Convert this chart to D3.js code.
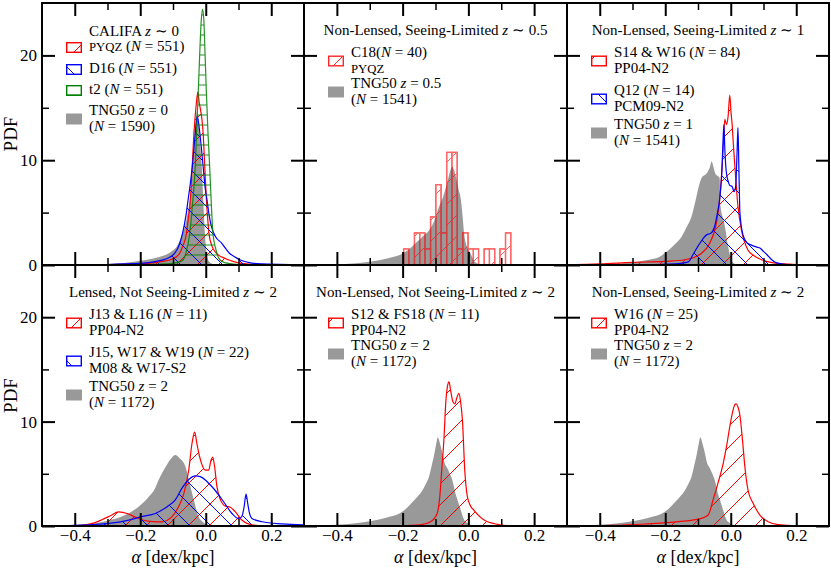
<!DOCTYPE html>
<html><head><meta charset="utf-8">
<script src="https://cdn.jsdelivr.net/npm/d3@7"></script>
<style>
body{margin:0;background:#fff}
svg{display:block}
text{font-family:"Liberation Serif","Times New Roman",serif;fill:#000;white-space:pre}
</style>
</head><body>
<svg id="chart" width="831" height="569"></svg>
<script>
// ---------------- DATA ----------------
const xTickValues = [-0.4, -0.2, 0.0, 0.2];
const xTickLabels = ["\u22120.4", "\u22120.2", "0.0", "0.2"];
const xMinorTicks = [-0.3, -0.1, 0.1];
const yTickValues = [0, 10, 20];
const yTickLabels = ["0", "10", "20"];
const yMinorTicks = [5, 15];

// Panel 1: CALIFA z~0  [alpha, PDF]
const tng50z0 = [[-0.5,0],[-0.4,0.02],[-0.3,0.1],[-0.25,0.2],[-0.2,0.4],[-0.15,0.7],[-0.12,1.0],[-0.1,1.4],[-0.09,1.7],[-0.08,2.3],[-0.07,3.2],[-0.064,3.6],[-0.055,5.0],[-0.049,6.2],[-0.04,9.0],[-0.035,11.5],[-0.03,13.8],[-0.027,14.6],[-0.022,13.5],[-0.017,11.5],[-0.012,9.3],[-0.008,6.5],[-0.003,3.2],[0.002,1.3],[0.007,0.5],[0.015,0.2],[0.03,0.05],[0.3,0]];
const califaPyqz = [[-0.5,0],[-0.3,0.03],[-0.2,0.1],[-0.14,0.3],[-0.1,0.6],[-0.08,1.1],[-0.07,1.8],[-0.059,3.0],[-0.053,4.5],[-0.047,6.2],[-0.042,9.0],[-0.036,12.6],[-0.03,15.0],[-0.024,16.5],[-0.02,15.5],[-0.017,15.0],[-0.012,14.0],[-0.008,12.6],[-0.003,9.4],[0.002,6.2],[0.006,4.4],[0.01,3.0],[0.018,1.9],[0.033,1.1],[0.05,0.75],[0.073,0.45],[0.1,0.2],[0.15,0.05],[0.3,0]];
const califaD16 = [[-0.5,0],[-0.3,0.05],[-0.2,0.15],[-0.15,0.35],[-0.12,0.6],[-0.095,1.1],[-0.08,2.0],[-0.071,3.0],[-0.06,4.8],[-0.054,6.2],[-0.047,7.8],[-0.041,9.4],[-0.035,11.5],[-0.03,13.3],[-0.026,14.2],[-0.022,13.6],[-0.016,12.0],[-0.008,9.4],[-0.002,7.4],[0.004,6.2],[0.01,4.8],[0.017,3.7],[0.03,2.7],[0.048,2.1],[0.06,1.6],[0.073,1.1],[0.09,0.75],[0.104,0.5],[0.13,0.25],[0.17,0.1],[0.3,0]];
const califaT2 = [[-0.5,0],[-0.2,0.02],[-0.12,0.1],[-0.08,0.3],[-0.069,0.5],[-0.06,1.2],[-0.049,3.0],[-0.04,6.0],[-0.032,9.4],[-0.027,13.5],[-0.023,16.4],[-0.018,20.5],[-0.014,23.2],[-0.01,24.4],[-0.006,23.5],[-0.002,20.0],[0.002,16.4],[0.007,12.5],[0.012,9.4],[0.017,5.8],[0.022,3.0],[0.03,1.6],[0.043,0.5],[0.06,0.2],[0.1,0.05],[0.3,0]];

// Panel 2: z~0.5
const tng50z05 = [[-0.5,0],[-0.4,0.05],[-0.3,0.3],[-0.25,0.6],[-0.2,1.1],[-0.18,1.5],[-0.16,2.1],[-0.14,2.7],[-0.12,3.3],[-0.1,4.5],[-0.09,5.5],[-0.077,6.5],[-0.065,7.8],[-0.055,9.0],[-0.049,9.4],[-0.043,9.0],[-0.035,8.0],[-0.028,7.0],[-0.024,6.5],[-0.018,4.8],[-0.014,3.3],[-0.005,1.8],[0.007,1.1],[0.015,0.5],[0.027,0.15],[0.05,0.03],[0.3,0]];
const c18BinEdges = [-0.197,-0.181,-0.164,-0.148,-0.132,-0.115,-0.099,-0.083,-0.066,-0.050,-0.034,-0.017,-0.001,0.015,0.031,0.048,0.064,0.080,0.096,0.113,0.129];
const c18Pdf = [1.53,0,3.07,3.07,1.53,4.60,7.67,3.07,10.74,10.74,1.53,3.07,1.53,1.53,0,1.53,1.53,0,1.53,3.07];

// Panel 3: z~1
const tng50z1 = [[-0.5,0],[-0.4,0.05],[-0.32,0.2],[-0.25,0.5],[-0.22,0.75],[-0.19,1.4],[-0.17,2.0],[-0.15,2.7],[-0.135,3.6],[-0.12,4.6],[-0.105,6.5],[-0.095,7.8],[-0.087,8.4],[-0.078,8.6],[-0.07,8.9],[-0.064,9.3],[-0.058,9.9],[-0.054,9.5],[-0.05,9.0],[-0.045,8.6],[-0.04,8.5],[-0.034,8.3],[-0.031,5.6],[-0.025,4.6],[-0.018,3.7],[-0.008,1.75],[0.002,0.5],[0.01,0.15],[0.03,0.03],[0.3,0]];
const s14w16 = [[-0.5,0.02],[-0.4,0.1],[-0.3,0.25],[-0.2,0.35],[-0.14,0.5],[-0.09,1.1],[-0.064,2.1],[-0.044,4.0],[-0.034,6.2],[-0.029,8.1],[-0.023,11.3],[-0.018,13.9],[-0.013,13.4],[-0.008,14.2],[-0.003,16.2],[0.001,14.5],[0.004,13.5],[0.008,11.5],[0.012,9.7],[0.022,5.6],[0.033,3.3],[0.053,1.4],[0.07,0.9],[0.094,0.5],[0.13,0.2],[0.2,0.05],[0.3,0]];
const q12 = [[-0.5,0],[-0.25,0.02],[-0.17,0.1],[-0.13,0.3],[-0.115,1.0],[-0.1,1.8],[-0.085,2.5],[-0.073,2.9],[-0.062,3.0],[-0.05,3.6],[-0.041,4.9],[-0.035,6.0],[-0.031,7.2],[-0.027,9.0],[-0.024,11.5],[-0.021,13.4],[-0.018,11.0],[-0.014,9.0],[-0.008,8.0],[-0.003,7.6],[0.004,7.5],[0.01,7.0],[0.015,7.5],[0.019,10.5],[0.022,13.1],[0.025,9.0],[0.028,5.0],[0.037,2.9],[0.05,2.1],[0.063,1.9],[0.08,1.7],[0.09,1.6],[0.1,1.3],[0.11,1.0],[0.125,0.5],[0.14,0.2],[0.17,0.05],[0.3,0]];

// Panel 4: lensed z~2
const tng50z2Smooth = [[-0.5,0.02],[-0.4,0.08],[-0.35,0.2],[-0.3,0.5],[-0.246,1.05],[-0.205,1.85],[-0.174,2.8],[-0.155,3.6],[-0.144,4.4],[-0.12,5.8],[-0.105,6.5],[-0.093,6.8],[-0.08,6.5],[-0.062,5.7],[-0.047,3.8],[-0.034,2.2],[-0.022,0.9],[-0.01,0.4],[0.0,0.2],[0.02,0.05],[0.3,0]];
const j13l16 = [[-0.5,0],[-0.4,0.02],[-0.368,0.1],[-0.34,0.3],[-0.317,0.6],[-0.29,1.0],[-0.266,1.35],[-0.24,1.2],[-0.215,0.85],[-0.195,0.6],[-0.17,0.45],[-0.134,0.4],[-0.103,0.9],[-0.083,1.85],[-0.067,3.1],[-0.052,5.35],[-0.042,7.9],[-0.034,9.0],[-0.027,7.9],[-0.02,6.8],[-0.013,6.0],[-0.001,5.35],[0.009,5.35],[0.016,6.3],[0.021,6.6],[0.027,5.7],[0.034,3.8],[0.045,2.5],[0.06,1.9],[0.075,1.8],[0.09,1.37],[0.11,0.57],[0.13,0.2],[0.16,0.05],[0.3,0]];
const j15w17w19 = [[-0.5,0],[-0.4,0.06],[-0.296,0.25],[-0.235,0.57],[-0.195,0.9],[-0.154,1.2],[-0.118,1.85],[-0.093,2.5],[-0.073,3.6],[-0.05,4.5],[-0.032,4.8],[-0.015,4.7],[-0.001,4.4],[0.015,3.9],[0.029,3.4],[0.055,2.3],[0.08,1.2],[0.1,0.73],[0.11,0.9],[0.117,1.8],[0.123,3.05],[0.128,2.2],[0.133,1.3],[0.141,0.73],[0.172,0.41],[0.233,0.2],[0.3,0.1]];

// Panels 5 & 6: z~2
const tng50z2 = [[-0.5,0.02],[-0.45,0.06],[-0.4,0.12],[-0.35,0.25],[-0.3,0.45],[-0.25,0.8],[-0.21,1.2],[-0.195,1.5],[-0.185,1.8],[-0.17,2.3],[-0.155,2.8],[-0.14,3.4],[-0.13,4.0],[-0.12,4.7],[-0.11,6.0],[-0.103,7.0],[-0.097,8.0],[-0.093,8.5],[-0.088,8.1],[-0.083,7.5],[-0.079,7.0],[-0.072,6.0],[-0.065,5.6],[-0.059,5.2],[-0.049,4.4],[-0.039,3.1],[-0.03,2.2],[-0.023,1.5],[-0.013,0.6],[-0.004,0.3],[0.005,0.15],[0.02,0.05],[0.3,0]];
const s12fs18 = [[-0.5,0],[-0.2,0.02],[-0.146,0.1],[-0.115,0.4],[-0.095,1.2],[-0.087,2.8],[-0.081,5.35],[-0.074,8.5],[-0.069,11.7],[-0.064,13.3],[-0.059,13.8],[-0.054,13.0],[-0.047,11.9],[-0.041,11.7],[-0.035,12.3],[-0.029,12.7],[-0.024,12.0],[-0.018,10.1],[-0.011,5.35],[-0.003,2.8],[0.007,1.9],[0.017,1.5],[0.048,0.57],[0.089,0.15],[0.12,0.03],[0.3,0]];
const w16 = [[-0.5,0],[-0.36,0.06],[-0.263,0.19],[-0.16,0.41],[-0.09,0.73],[-0.069,1.05],[-0.054,2.5],[-0.039,4.1],[-0.023,6.0],[-0.013,7.6],[-0.003,9.5],[0.007,11.1],[0.012,11.6],[0.017,11.7],[0.022,11.4],[0.027,10.8],[0.036,8.2],[0.043,5.7],[0.053,3.4],[0.068,2.2],[0.089,1.05],[0.114,0.41],[0.145,0.13],[0.2,0.02],[0.3,0]];

// ---------------- LAYOUT / STYLE ----------------
const colLeft = [42, 304, 567], colRight = [304, 567, 829];
const rowTop = [3, 265], rowBottom = [265, 526];
const styles = {
  gray:  {fill: "#999999"},
  red:   {color: "#ff0000", pat: "hRed"},
  blue:  {color: "#0000ff", pat: "hBlue"},
  green: {color: "#008000", pat: "hGreen"}
};

const panels = [
  {r:0, c:0, layers:[{d:tng50z0,s:"gray"},{d:califaPyqz,s:"red"},{d:califaD16,s:"blue"},{d:califaT2,s:"green",op:0.85}],
   title:"CALIFA $z$ \u223C 0", titleCx:92, titleBase:33,
   entries:[{h:"red",lines:["^PYQZ^ ($N$ = 551)"],b:48},{h:"blue",lines:["D16 ($N$ = 551)"],b:70},{h:"green",lines:["t2 ($N$ = 551)"],b:91},{h:"gray",lines:["TNG50 $z$ = 0","($N$ = 1590)"],b:112}]},
  {r:0, c:1, layers:[{d:tng50z05,s:"gray"},{hist:true,s:"red",op:0.6}],
   title:"Non-Lensed, Seeing-Limited $z$ \u223C 0.5", titleBase:32,
   entries:[{h:"red",lines:["C18($N$ = 40)","^PYQZ^"],b:54},{h:"gray",lines:["TNG50 $z$ = 0.5","($N$ = 1541)"],b:85}]},
  {r:0, c:2, layers:[{d:tng50z1,s:"gray"},{d:s14w16,s:"red"},{d:q12,s:"blue"}],
   title:"Non-Lensed, Seeing-Limited $z$ \u223C 1", titleBase:32,
   entries:[{h:"red",lines:["S14 & W16 ($N$ = 84)","PP04-N2"],b:54},{h:"blue",lines:["Q12 ($N$ = 14)","PCM09-N2"],b:92},{h:"gray",lines:["TNG50 $z$ = 1","($N$ = 1541)"],b:126}]},
  {r:1, c:0, layers:[{d:tng50z2Smooth,s:"gray"},{d:j13l16,s:"red"},{d:j15w17w19,s:"blue"}],
   title:"Lensed, Not Seeing-Limited $z$ \u223C 2", titleBase:32,
   entries:[{h:"red",lines:["J13 & L16 ($N$ = 11)","PP04-N2"],b:54},{h:"blue",lines:["J15, W17 & W19 ($N$ = 22)","M08 & W17-S2"],b:92},{h:"gray",lines:["TNG50 $z$ = 2","($N$ = 1172)"],b:126}]},
  {r:1, c:1, layers:[{d:tng50z2,s:"gray"},{d:s12fs18,s:"red"}],
   title:"Non-Lensed, Not Seeing-Limited $z$ \u223C 2", titleBase:32,
   entries:[{h:"red",lines:["S12 & FS18 ($N$ = 11)","PP04-N2"],b:54},{h:"gray",lines:["TNG50 $z$ = 2","($N$ = 1172)"],b:85}]},
  {r:1, c:2, layers:[{d:tng50z2,s:"gray"},{d:w16,s:"red"}],
   title:"Non-Lensed, Seeing-Limited $z$ \u223C 2", titleBase:32,
   entries:[{h:"red",lines:["W16 ($N$ = 25)","PP04-N2"],b:54},{h:"gray",lines:["TNG50 $z$ = 2","($N$ = 1172)"],b:85}]}
];

const FS = 15;
function rich(sel, str, fs) {
  str.split(/(\$[^$]*\$|\^[^^]*\^)/g).filter(s => s.length).forEach(s => {
    if (s[0] === "$") sel.append("tspan").attr("font-style", "italic").text(s.slice(1, -1));
    else if (s[0] === "^") sel.append("tspan").attr("font-size", fs * 0.85).text(s.slice(1, -1));
    else sel.append("tspan").text(s);
  });
}

const svg = d3.select("#chart");
const defs = svg.append("defs");
function hatch(id, color, p, dpath) {
  defs.append("pattern").attr("id", id).attr("patternUnits", "userSpaceOnUse")
    .attr("width", p).attr("height", p)
    .append("path").attr("d", dpath).attr("stroke", color).attr("stroke-width", 1).attr("fill", "none");
}
const P = 21;
hatch("hRed", "#ff0000", P, `M0,${P} L${P},0 M${-P/4},${P/4} L${P/4},${-P/4} M${P*3/4},${P*5/4} L${P*5/4},${P*3/4}`);
hatch("hBlue", "#0000ff", P, `M0,0 L${P},${P} M${-P/4},${P*3/4} L${P/4},${P*5/4} M${P*3/4},${-P/4} L${P*5/4},${P/4}`);
hatch("hGreen", "#008000", 10, `M0,5 L10,5`);

panels.forEach((p, pi) => {
  const L = colLeft[p.c], R = colRight[p.c], T = rowTop[p.r], B = rowBottom[p.r];
  const x = d3.scaleLinear().domain([-0.5, 0.3]).range([L, R]);
  const y = d3.scaleLinear().domain([0, 25]).range([B, T]);
  const g = svg.append("g");
  defs.append("clipPath").attr("id", "clip" + pi).append("rect")
    .attr("x", L).attr("y", T).attr("width", R - L).attr("height", B - T);
  const plot = g.append("g").attr("clip-path", `url(#clip${pi})`);

  p.layers.forEach(layer => {
    const st = styles[layer.s];
    const lg = plot.append("g").attr("opacity", layer.op || 1);
    if (layer.hist) {
      const pts = [[c18BinEdges[0], 0]];
      c18Pdf.forEach((v, i) => { pts.push([c18BinEdges[i], v]); pts.push([c18BinEdges[i + 1], v]); });
      pts.push([c18BinEdges[c18BinEdges.length - 1], 0]);
      const line = d3.line().x(d => x(d[0])).y(d => y(d[1]));
      lg.append("path").attr("d", line(pts) + "Z").attr("fill", `url(#${st.pat})`)
        .attr("stroke", st.color).attr("stroke-width", 1.3);
      c18Pdf.forEach((v, i) => {
        if (v > 0) lg.append("path").attr("d", line([[c18BinEdges[i], 0],[c18BinEdges[i], v],[c18BinEdges[i+1], v],[c18BinEdges[i+1], 0]]))
          .attr("fill", "none").attr("stroke", st.color).attr("stroke-width", 1.3);
      });
      return;
    }
    const area = d3.area().x(d => x(d[0])).y0(y(0)).y1(d => y(d[1])).curve(d3.curveMonotoneX);
    if (layer.s === "gray") {
      lg.append("path").attr("d", area(layer.d)).attr("fill", st.fill);
    } else {
      lg.append("path").attr("d", area(layer.d)).attr("fill", `url(#${st.pat})`);
      const line = d3.line().x(d => x(d[0])).y(d => y(d[1])).curve(d3.curveMonotoneX);
      lg.append("path").attr("d", line(layer.d)).attr("fill", "none")
        .attr("stroke", st.color).attr("stroke-width", 1.2);
    }
  });

  const styleAxis = (sel, w) => {
    sel.select(".domain").remove();
    sel.selectAll(".tick line").attr("stroke", "#000").attr("stroke-width", w);
    sel.selectAll(".tick text").attr("font-family", "Liberation Serif, serif").attr("font-size", 17).attr("fill", "#000");
    sel.selectAll(".tick text").filter(function () { return this.textContent === ""; }).remove();
  };
  const showX = p.r === 1, showY = p.c === 0;
  g.append("g").attr("transform", `translate(0,${B})`)
    .call(d3.axisBottom(x).tickValues(xTickValues).tickSize(-13).tickPadding(3)
      .tickFormat((d, i) => showX ? xTickLabels[i] : "")).call(s => styleAxis(s, 2));
  g.append("g").attr("transform", `translate(0,${B})`)
    .call(d3.axisBottom(x).tickValues(xMinorTicks).tickSize(-7).tickFormat("")).call(s => styleAxis(s, 1.5));
  g.append("g").attr("transform", `translate(0,${T})`)
    .call(d3.axisTop(x).tickValues(xTickValues).tickSize(-13).tickFormat("")).call(s => styleAxis(s, 2));
  g.append("g").attr("transform", `translate(0,${T})`)
    .call(d3.axisTop(x).tickValues(xMinorTicks).tickSize(-7).tickFormat("")).call(s => styleAxis(s, 1.5));
  g.append("g").attr("transform", `translate(${L},0)`)
    .call(d3.axisLeft(y).tickValues(yTickValues).tickSize(-13).tickPadding(5)
      .tickFormat((d, i) => showY ? yTickLabels[i] : "")).call(s => styleAxis(s, 2));
  g.append("g").attr("transform", `translate(${L},0)`)
    .call(d3.axisLeft(y).tickValues(yMinorTicks).tickSize(-7).tickFormat("")).call(s => styleAxis(s, 1.5));
  g.append("g").attr("transform", `translate(${R},0)`)
    .call(d3.axisRight(y).tickValues(yTickValues).tickSize(-13).tickFormat("")).call(s => styleAxis(s, 2));
  g.append("g").attr("transform", `translate(${R},0)`)
    .call(d3.axisRight(y).tickValues(yMinorTicks).tickSize(-7).tickFormat("")).call(s => styleAxis(s, 1.5));

  g.append("rect").attr("x", L).attr("y", T).attr("width", R - L).attr("height", B - T)
    .attr("fill", "none").attr("stroke", "#000").attr("stroke-width", 2);

  // legend
  const cx = p.titleCx !== undefined ? L + p.titleCx : (L + R) / 2;
  const tt = g.append("text").attr("x", cx).attr("y", T + p.titleBase).attr("text-anchor", "middle").attr("font-size", FS);
  rich(tt, p.title, FS);
  p.entries.forEach(e => {
    const bc = e.lines.length > 1 ? e.b + 4 : e.b - 3.5;
    const st = styles[e.h];
    const bx = L + 24, by = T + bc - 5.5;
    if (e.h === "gray") {
      g.append("rect").attr("x", bx).attr("y", by).attr("width", 16).attr("height", 11).attr("fill", st.fill);
    } else {
      g.append("rect").attr("x", bx + 0.7).attr("y", by + 0.7).attr("width", 14.6).attr("height", 9.6)
        .attr("fill", `url(#${st.pat})`).attr("stroke", st.color).attr("stroke-width", 1.4)
        .attr("opacity", pi === 1 ? 0.85 : 1);
    }
    e.lines.forEach((ln, k) => {
      const t = g.append("text").attr("x", L + 47).attr("y", T + e.b + k * 15.5).attr("font-size", FS);
      rich(t, ln, FS);
    });
  });

  if (showY) {
    svg.append("text").attr("transform", `translate(17,${(T + B) / 2}) rotate(-90)`)
      .attr("text-anchor", "middle").attr("font-size", 19).text("PDF");
  }
  if (showX) {
    const xl = svg.append("text").attr("x", (L + R) / 2).attr("y", 563).attr("text-anchor", "middle").attr("font-size", 18);
    rich(xl, "$\u03B1$ [dex/kpc]", 18);
  }
});
</script>
</body></html>
